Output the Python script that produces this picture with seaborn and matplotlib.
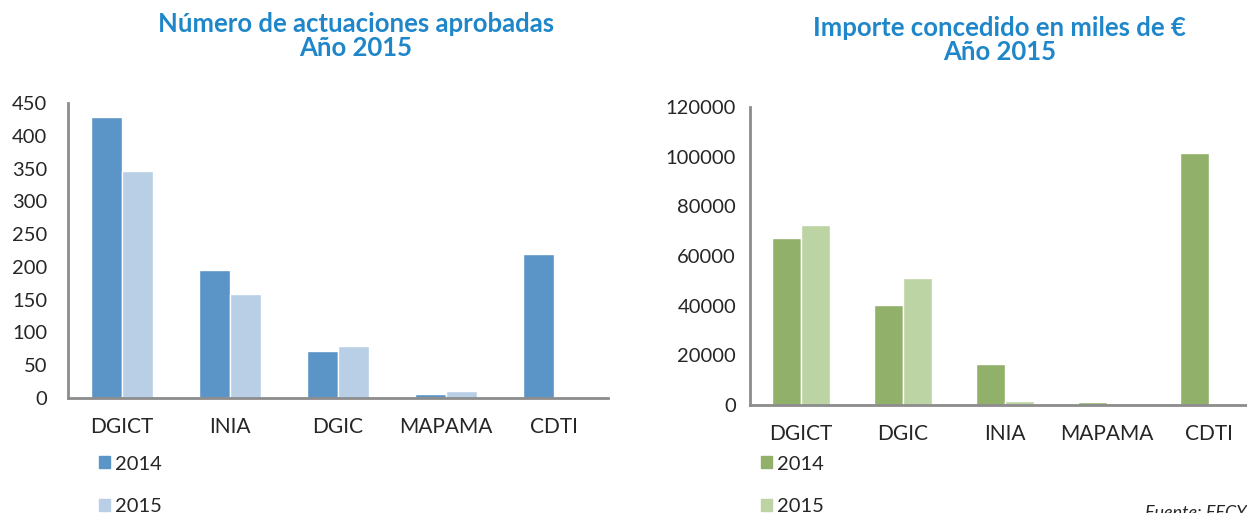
import numpy as np
import pandas as pd
import seaborn as sns
import matplotlib.pyplot as plt
from matplotlib.patches import Patch

# data
act_orgs = ['DGICT', 'INIA', 'DGIC', 'MAPAMA', 'CDTI']
act_2014 = [428, 195, 72, 6, 219]
act_2015 = [347, 158, 80, 10, 0]

imp_orgs = ['DGICT', 'DGIC', 'INIA', 'MAPAMA', 'CDTI']
imp_2014 = [67200, 40200, 16600, 1100, 101400]
imp_2015 = [72400, 51000, 1700, 1000, 0]

years = ['2014', '2015']

sns.set_style('white')
plt.rcParams['font.family'] = ['Lato', 'DejaVu Sans']

fig = plt.figure(figsize=(12.47, 5.13), dpi=100)
ax1 = fig.add_axes([0.0545, 0.2242, 0.433, 0.575])
ax2 = fig.add_axes([0.6014, 0.2105, 0.409, 0.581])

title_col = '#1F87C9'
spine_col = '#8C8C8C'


def make_df(orgs, v14, v15):
    return pd.DataFrame({
        'org': orgs * 2,
        'year': [years[0]] * len(orgs) + [years[1]] * len(orgs),
        'value': v14 + v15,
    })


def draw(ax, df, pal, ymax, step, title, ypad, leg_x, title_x):
    sns.barplot(data=df, x='org', y='value', hue='year', palette=pal,
                width=0.57, gap=0, ax=ax, legend=False, saturation=1)
    ax.set_xlim(-0.5, 4.5)
    ax.set_ylim(0, ymax)
    ax.set_yticks(np.arange(0, ymax + 1, step))
    ax.set_xlabel('')
    ax.set_ylabel('')
    sns.despine(ax=ax)
    for s in ['left', 'bottom']:
        ax.spines[s].set_color(spine_col)
        ax.spines[s].set_linewidth(2)
    ax.tick_params(axis='y', length=0, pad=ypad, labelsize=14.5)
    ax.tick_params(axis='x', length=0, pad=14, labelsize=15)
    ax.set_title(title, color=title_col, fontsize=18.5, fontweight='bold',
                 linespacing=1.0, pad=34, x=title_x)
    handles = [Patch(color=pal[y], label=y) for y in years]
    fig.legend(handles=handles, loc='upper left',
               bbox_to_anchor=(leg_x, 0.112), frameon=False, fontsize=14.5,
               handlelength=0.55, handleheight=0.55, handletextpad=0.25,
               labelspacing=1.25, borderaxespad=0, borderpad=0)


draw(ax1, make_df(act_orgs, act_2014, act_2015),
     {'2014': '#5B94C6', '2015': '#B8CFE5'}, 450, 50,
     'Número de actuaciones aprobadas\nAño 2015', 15, 0.079, 0.533)
draw(ax2, make_df(imp_orgs, imp_2014, imp_2015),
     {'2014': '#91B06A', '2015': '#BCD3A4'}, 120000, 20000,
     'Importe concedido en miles de €\nAño 2015', 10, 0.61, 0.49)

fig.text(1145 / 1247, 0.016, 'Fuente: FECYT', style='italic', fontsize=13,
         va='top', ha='left')

fig.savefig('out.png', dpi=100)
